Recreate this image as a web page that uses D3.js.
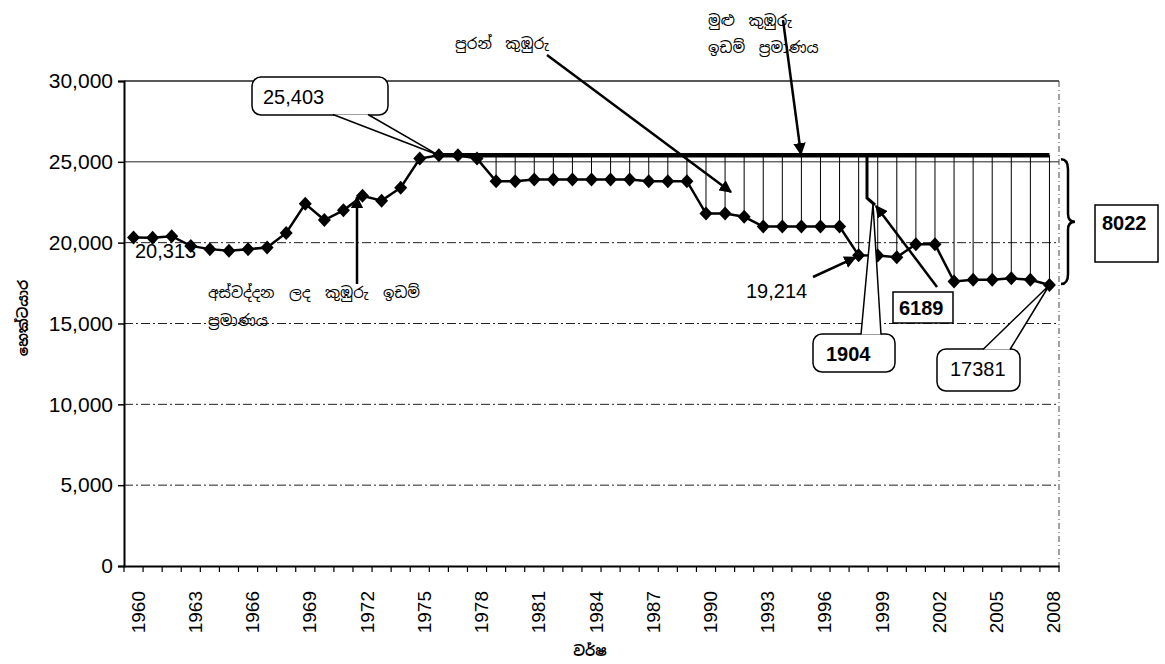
<!DOCTYPE html>
<html>
<head>
<meta charset="utf-8">
<script src="https://cdn.jsdelivr.net/npm/d3@7/dist/d3.min.js"></script>
<style>
  body { margin: 0; background: #fff; }
  svg { font-family: "Liberation Sans", Arial, sans-serif; }
  .si { font-family: "Noto Sans Sinhala", "Noto Sans", "DejaVu Sans", sans-serif; }
</style>
</head>
<body>
<div id="chart"></div>
<script>
// data
var years = [1960,1961,1962,1963,1964,1965,1966,1967,1968,1969,
             1970,1971,1972,1973,1974,1975,1976,1977,1978,1979,
             1980,1981,1982,1983,1984,1985,1986,1987,1988,1989,
             1990,1991,1992,1993,1994,1995,1996,1997,1998,1999,
             2000,2001,2002,2003,2004,2005,2006,2007,2008];
var cultivated = [20313,20300,20400,19800,19600,19500,19600,19700,20600,22400,
                  21400,22000,22900,22600,23400,25200,25403,25400,25200,23800,
                  23800,23900,23900,23900,23900,23900,23900,23800,23800,23800,
                  21800,21800,21600,21000,21000,21000,21000,21000,19214,19200,
                  19100,19900,19900,17600,17700,17700,17800,17700,17381];
var totalExtent = 25403;
var totalFromYear = 1976;
var dropFromYear = 1979;
var yTicks = [0,5000,10000,15000,20000,25000,30000];
var xTickYears = [1960,1963,1966,1969,1972,1975,1978,1981,1984,1987,1990,1993,1996,1999,2002,2005,2008];

// labels
var yTitle = 'හෙක්ටයාර';
var xTitle = 'වර්ෂ';

const W = 1165, H = 664;
const LEFT = 124, RIGHT = 1059, TOP = 81, BOTTOM = 566;
const FS = 20;

var svg = d3.select('#chart').append('svg')
            .attr('width', W)
            .attr('height', H);

var x = d3.scaleBand().domain(years).range([LEFT, RIGHT]).padding(0);
var bw = x.bandwidth();
var xc = d => x(d) + bw / 2;
var y = d3.scaleLinear().domain([0, 30000]).range([BOTTOM, TOP]);

var defs = svg.append('defs');
defs.append('marker')
    .attr('id', 'arrow')
    .attr('viewBox', '0 0 10 10')
    .attr('refX', 9).attr('refY', 5)
    .attr('markerWidth', 5).attr('markerHeight', 5)
    .attr('markerUnits', 'strokeWidth')
    .attr('orient', 'auto')
  .append('path')
    .attr('d', 'M0,0 L10,5 L0,10 z')
    .attr('fill', '#000');

// gridlines
svg.append('g').selectAll('line').data(yTicks.filter(t => t > 0))
   .enter().append('line')
   .attr('x1', LEFT).attr('x2', RIGHT)
   .attr('y1', d => y(d)).attr('y2', d => y(d))
   .attr('stroke', '#222')
   .attr('stroke-width', d => d == 30000 ? 1.5 : 1)
   .attr('stroke-dasharray', d => d >= 25000 ? null : '9,3,2,3');

// right border of plot area (dotted)
svg.append('line')
   .attr('x1', RIGHT).attr('x2', RIGHT)
   .attr('y1', TOP).attr('y2', BOTTOM)
   .attr('stroke', '#444').attr('stroke-width', 1)
   .attr('stroke-dasharray', '6,3,1,3');

// axes
var yAxis = d3.axisLeft(y).tickValues(yTicks).tickSize(6).tickFormat(d3.format(','));
var gy = svg.append('g').attr('transform', 'translate(' + LEFT + ',0)').call(yAxis);
gy.select('.domain').attr('stroke-width', 2);
gy.selectAll('.tick line').attr('stroke-width', 1.5);
gy.selectAll('text').attr('font-size', 21).attr('fill', '#000')
  .attr('font-family', '"Liberation Sans", Arial, sans-serif').attr('x', -11);

var xAxis = d3.axisBottom(x).tickValues([]).tickSizeOuter(0);
var gx = svg.append('g').attr('transform', 'translate(0,' + BOTTOM + ')').call(xAxis);
gx.select('.domain').attr('stroke-width', 2);
// tick marks at category boundaries
gx.selectAll('line.cat').data(years.concat(['end']))
  .enter().append('line').classed('cat', true)
  .attr('x1', d => d == 'end' ? RIGHT : x(d))
  .attr('x2', d => d == 'end' ? RIGHT : x(d))
  .attr('y1', 0).attr('y2', 6)
  .attr('stroke', '#000').attr('stroke-width', 1.2);
gx.selectAll('text.yr').data(xTickYears)
  .enter().append('text').classed('yr', true)
  .attr('transform', d => 'translate(' + (xc(d) + 11) + ',' + 25 + ') rotate(-90)')
  .attr('text-anchor', 'end')
  .attr('font-size', 19)
  .attr('fill', '#000')
  .text(d => d);

// axis titles
svg.append('text').classed('si', true)
   .attr('transform', 'translate(28,318) rotate(-90)')
   .attr('text-anchor', 'middle')
   .attr('font-size', 14).attr('font-weight', 'bold')
   .text(yTitle);
svg.append('text').classed('si', true)
   .attr('x', 590).attr('y', 656)
   .attr('text-anchor', 'middle')
   .attr('font-size', 14).attr('font-weight', 'bold')
   .text(xTitle);

// drop lines (abandoned extent) from total line to cultivated point
var dropData = years.map((yr, i) => ({yr: yr, v: cultivated[i]})).filter(d => d.yr >= dropFromYear);
svg.append('g').selectAll('line').data(dropData)
   .enter().append('line')
   .attr('x1', d => xc(d.yr)).attr('x2', d => xc(d.yr))
   .attr('y1', y(totalExtent)).attr('y2', d => y(d.v))
   .attr('stroke', '#000').attr('stroke-width', 1);

// total extent line
svg.append('line')
   .attr('x1', xc(totalFromYear)).attr('x2', xc(years[years.length - 1]))
   .attr('y1', y(totalExtent)).attr('y2', y(totalExtent))
   .attr('stroke', '#000').attr('stroke-width', 4.5);

// cultivated line
var pts = years.map((yr, i) => [xc(yr), y(cultivated[i])]);
svg.append('path')
   .attr('d', d3.line()(pts))
   .attr('fill', 'none')
   .attr('stroke', '#000')
   .attr('stroke-width', 2.5);

svg.append('g').selectAll('path').data(pts)
   .enter().append('path')
   .attr('transform', d => 'translate(' + d[0] + ',' + d[1] + ')')
   .attr('d', 'M0,-7 L6.5,0 L0,7 L-6.5,0 Z')
   .attr('fill', '#000');

// helper: rounded callout with a wedge tail
function callout(box, tailBase, tip, label, bold) {
  var g = svg.append('g');
  g.append('rect')
   .attr('x', box[0]).attr('y', box[1])
   .attr('width', box[2]).attr('height', box[3])
   .attr('rx', 9).attr('ry', 9)
   .attr('fill', '#fff').attr('stroke', '#000').attr('stroke-width', 1.5);
  g.append('path')
   .attr('d', 'M' + tailBase[0] + ' L' + tip + ' L' + tailBase[1] + ' Z')
   .attr('fill', '#fff').attr('stroke', 'none');
  g.append('path')
   .attr('d', 'M' + tailBase[0] + ' L' + tip + ' L' + tailBase[1])
   .attr('fill', 'none').attr('stroke', '#000').attr('stroke-width', 1.5);
  g.append('text')
   .attr('x', label[0]).attr('y', label[1])
   .attr('font-size', FS)
   .attr('font-weight', bold ? 'bold' : 'normal')
   .text(label[2]);
}

function arrow(p1, p2, w) {
  svg.append('line')
     .attr('x1', p1[0]).attr('y1', p1[1])
     .attr('x2', p2[0]).attr('y2', p2[1])
     .attr('stroke', '#000').attr('stroke-width', w || 2.5)
     .attr('marker-end', 'url(#arrow)');
}

var iLast = years.length - 1;
var i1998 = years.indexOf(1998);

// 25,403 callout
callout([252, 77, 136, 38], [[333, 114.5], [368, 114.5]], [xc(1976), y(totalExtent)],
        [263, 104, d3.format(',')(totalExtent)], false);

// 20,313 label
svg.append('text').attr('x', 135).attr('y', 258).attr('font-size', FS)
   .text(d3.format(',')(cultivated[0]));

// 19,214 label + arrow
svg.append('text').attr('x', 746).attr('y', 298).attr('font-size', FS)
   .text(d3.format(',')(cultivated[i1998]));
arrow([813, 277], [xc(1998) - 3, y(cultivated[i1998]) + 2], 2.5);

// thick marker line beside 1998
svg.append('path')
   .attr('d', 'M867,' + y(totalExtent) + ' L867,198 L875,205')
   .attr('fill', 'none').attr('stroke', '#000').attr('stroke-width', 3);

// 1904 callout
callout([813, 334, 82, 38], [[861, 334.5], [881, 334.5]], [873, 204], [826, 361, '1904'], true);

// 6189 box + arrow
svg.append('rect').attr('x', 893).attr('y', 292).attr('width', 60).attr('height', 31)
   .attr('fill', '#fff').attr('stroke', '#000').attr('stroke-width', 1.5);
svg.append('text').attr('x', 899).attr('y', 315).attr('font-size', FS).attr('font-weight', 'bold')
   .text(totalExtent - cultivated[i1998]);
arrow([937, 287], [876, 206], 2.5);

// 17381 callout
callout([937, 349, 83, 42], [[983, 349.5], [1010, 349.5]], [xc(2008), y(cultivated[iLast])],
        [950, 376, String(cultivated[iLast])], false);

// brace and 8022 box
var by1 = y(totalExtent) + 4, by2 = y(cultivated[iLast]) - 1, bm = (by1 + by2) / 2;
var bx = RIGHT + 2;
svg.append('path')
   .attr('d', 'M' + bx + ',' + by1 + ' Q' + (bx + 7) + ',' + by1 + ' ' + (bx + 7) + ',' + (by1 + 10) +
              ' L' + (bx + 7) + ',' + (bm - 8) + ' Q' + (bx + 7) + ',' + bm + ' ' + (bx + 14) + ',' + bm +
              ' Q' + (bx + 7) + ',' + bm + ' ' + (bx + 7) + ',' + (bm + 8) +
              ' L' + (bx + 7) + ',' + (by2 - 10) + ' Q' + (bx + 7) + ',' + by2 + ' ' + bx + ',' + by2)
   .attr('fill', 'none').attr('stroke', '#000').attr('stroke-width', 2.5);
svg.append('rect').attr('x', 1095).attr('y', 205).attr('width', 63).attr('height', 57)
   .attr('fill', '#fff').attr('stroke', '#000').attr('stroke-width', 1.5);
svg.append('text').attr('x', 1102).attr('y', 230).attr('font-size', FS).attr('font-weight', 'bold')
   .text(totalExtent - cultivated[iLast]);

// Sinhala annotations
svg.append('text').classed('si', true).attr('x', 208).attr('y', 298).attr('font-size', 15)
   .attr('word-spacing', 7)
   .text('අස්වද්දන ලද කුඹුරු ඉඩම්');
svg.append('text').classed('si', true).attr('x', 208).attr('y', 326).attr('font-size', 15)
   .text('ප්‍රමාණය');
arrow([357, 284], [357, 197], 2.5);

svg.append('text').classed('si', true).attr('x', 455).attr('y', 49).attr('font-size', 15)
   .attr('word-spacing', 6)
   .text('පුරන් කුඹුරු');
arrow([547, 55], [731, 192], 2.5);

svg.append('text').classed('si', true).attr('x', 708).attr('y', 26).attr('font-size', 15)
   .attr('word-spacing', 6)
   .text('මුළු කුඹුරු');
svg.append('text').classed('si', true).attr('x', 708).attr('y', 53).attr('font-size', 15)
   .attr('word-spacing', 6)
   .text('ඉඩම් ප්‍රමාණය');
arrow([783, 20], [801, y(totalExtent) - 1], 2.5);
</script>
</body>
</html>
